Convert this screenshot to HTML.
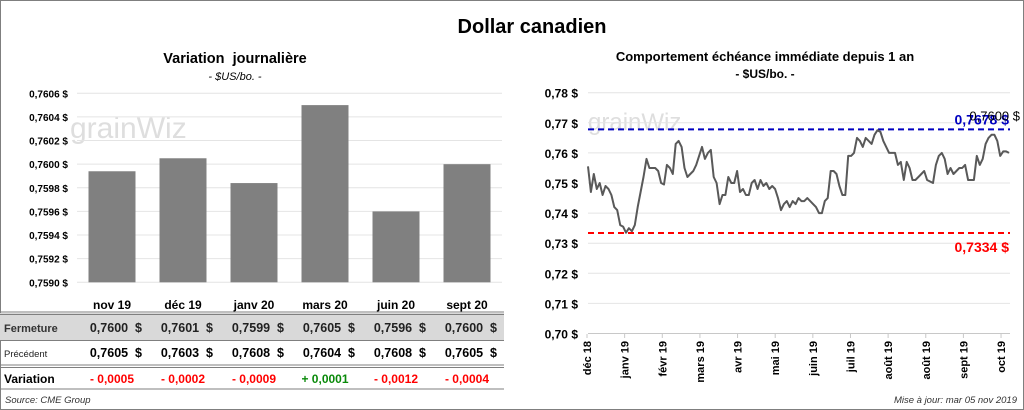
<!DOCTYPE html>
<html><head><meta charset="utf-8">
<style>
body{margin:0;width:1024px;height:410px;background:#fff;font-family:"Liberation Sans",sans-serif;overflow:hidden;position:relative}
.frame{position:absolute;left:0;top:0;width:1022px;height:408px;border:1px solid #7f7f7f}
svg{position:absolute;left:0;top:0}
svg text{white-space:pre}
</style></head>
<body>
<div class="frame"></div>
<svg width="1024" height="410" id="s">
<text x="532" y="33" text-anchor="middle" font-size="20" font-weight="bold" fill="#000">Dollar canadien</text>
<text x="235" y="63" text-anchor="middle" font-size="14.5" font-weight="bold">Variation  journalière</text>
<text x="235" y="80" text-anchor="middle" font-size="11" font-style="italic">- $US/bo. -</text>
<text x="765" y="61" text-anchor="middle" font-size="13" font-weight="bold">Comportement échéance immédiate depuis 1 an</text>
<text x="765" y="78" text-anchor="middle" font-size="12" font-weight="bold">- $US/bo. -</text>
<g id="left"></g><g id="right"></g><g id="table"></g>
<text x="5" y="403" font-size="9.5" font-style="italic" fill="#333">Source: CME Group</text>
<text x="1017" y="403" text-anchor="end" font-size="9.5" font-style="italic" fill="#333">Mise à jour: mar 05 nov 2019</text>
</svg>
<script>
const barCats=["nov 19","déc 19","janv 20","mars 20","juin 20","sept 20"];
const barVals=[0.75994,0.76005,0.75984,0.76050,0.75960,0.76000];
const barTicks=[0.7590,0.7592,0.7594,0.7596,0.7598,0.7600,0.7602,0.7604,0.7606];
const closeVals=["0,7600","0,7601","0,7599","0,7605","0,7596","0,7600"];
const prevVals=["0,7605","0,7603","0,7608","0,7604","0,7608","0,7605"];
const varVals=["- 0,0005","- 0,0002","- 0,0009","+ 0,0001","- 0,0012","- 0,0004"];
const lineLabels=["déc 18","janv 19","févr 19","mars 19","avr 19","mai 19","juin 19","juil 19","août 19","août 19","sept 19","oct 19"];
const lineTicks=[0.70,0.71,0.72,0.73,0.74,0.75,0.76,0.77,0.78];
const lineVals=[0.7555,0.747,0.753,0.748,0.750,0.746,0.749,0.748,0.746,0.742,0.741,0.736,0.7355,0.7335,0.735,0.734,0.736,0.742,0.747,0.752,0.758,0.755,0.755,0.755,0.754,0.750,0.7495,0.756,0.755,0.753,0.763,0.764,0.762,0.755,0.752,0.753,0.754,0.756,0.759,0.762,0.758,0.760,0.761,0.752,0.750,0.743,0.746,0.746,0.752,0.750,0.750,0.754,0.747,0.748,0.746,0.746,0.750,0.751,0.748,0.751,0.749,0.750,0.748,0.749,0.748,0.745,0.741,0.743,0.744,0.742,0.744,0.743,0.745,0.744,0.744,0.745,0.744,0.743,0.742,0.740,0.740,0.744,0.745,0.754,0.754,0.753,0.749,0.746,0.746,0.759,0.759,0.760,0.765,0.764,0.762,0.765,0.764,0.763,0.766,0.7675,0.767,0.764,0.762,0.760,0.760,0.760,0.756,0.757,0.751,0.757,0.755,0.751,0.751,0.752,0.753,0.754,0.751,0.7505,0.750,0.756,0.759,0.760,0.758,0.753,0.755,0.753,0.754,0.755,0.755,0.756,0.751,0.751,0.751,0.759,0.756,0.758,0.763,0.765,0.766,0.766,0.764,0.759,0.7605,0.7605,0.760];
const maxVal=0.7678, minVal=0.7334, lastVal=0.7600;

const NS="http://www.w3.org/2000/svg";
function mk(p,t,a,txt){const e=document.createElementNS(NS,t);for(const k in a)e.setAttribute(k,a[k]);if(txt!==undefined)e.textContent=txt;p.appendChild(e);return e;}
const fmt4=v=>v.toFixed(4).replace('.',',')+' $';
const fmt2=v=>v.toFixed(2).replace('.',',')+' $';

// left bar chart
const L=document.getElementById('left');
const ly=v=>282.3-(v-0.7590)/(0.0016)*189;
const lx=i=>112+i*71;
const wl=mk(L,'text',{x:70,y:138,'font-size':30,fill:'#dedede'},'grainWiz');

barTicks.forEach(t=>{
 const g=mk(L,'line',{x1:77,x2:502,y1:ly(t),y2:ly(t),stroke:'#e4e4e4','stroke-width':1});
 
 const tx=mk(L,'text',{x:68,y:ly(t)+4,'text-anchor':'end','font-size':10,'font-weight':'bold'},fmt4(t));
 
});
barVals.forEach((v,i)=>{
 const r=mk(L,'rect',{x:lx(i)-23.5,y:ly(v),width:47,height:ly(0.7590)-ly(v),fill:'#808080'});
 
});

// table
const T=document.getElementById('table');
mk(T,'rect',{x:0,y:313,width:504,height:27,fill:'#d9d9d9'});
[[312,'#7f7f7f'],[314.5,'#7f7f7f'],[340.5,'#7f7f7f'],[365,'#7f7f7f'],[367.5,'#7f7f7f'],[389,'#7f7f7f']].forEach(([y,c])=>mk(T,'line',{x1:0,x2:504,y1:y,y2:y,stroke:c,'stroke-width':1}));
const r1=mk(T,'text',{x:4,y:332,'font-size':11,'font-weight':'bold',fill:'#333'},'Fermeture');

const r2=mk(T,'text',{x:4,y:357,'font-size':9.5,fill:'#222'},'Précédent');

const r3=mk(T,'text',{x:4,y:383,'font-size':12,'font-weight':'bold'},'Variation');

barCats.forEach((c,i)=>{
 const x=lx(i);
 const h=mk(T,'text',{x:x,y:309,'text-anchor':'middle','font-size':12,'font-weight':'bold'},c);
 
 const a=mk(T,'text',{x:x+30,y:332,'text-anchor':'end','font-size':12.5,'font-weight':'bold',fill:'#222'},closeVals[i]+'  $');
 
 const b=mk(T,'text',{x:x+30,y:357,'text-anchor':'end','font-size':12.5,'font-weight':'bold'},prevVals[i]+'  $');
 
 const v=mk(T,'text',{x:x,y:383,'text-anchor':'middle','font-size':12,'font-weight':'bold',fill:varVals[i][0]=='+'?'#0a8a0a':'#ff0000'},varVals[i]);
 
});

// right line chart
const R=document.getElementById('right');
const ry=v=>92.7+(0.78-v)/0.01*30.1;
const rx0=588,rx1=1009;
const rx=i=>rx0+i*(rx1-rx0)/(lineVals.length-1);
const wr=mk(R,'text',{x:588,y:130,'font-size':24,fill:'#dedede'},'grainWiz');

lineTicks.forEach(t=>{
 const g=mk(R,'line',{x1:588,x2:1010,y1:ry(t),y2:ry(t),stroke:t==0.70?'#c8c8c8':'#e4e4e4','stroke-width':1});
 
 const tx=mk(R,'text',{x:578,y:ry(t)+5,'text-anchor':'end','font-size':12,'font-weight':'bold'},fmt2(t));
 
});
lineLabels.forEach((l,i)=>{
 const x=587+i*37.64;
 mk(R,'line',{x1:x,x2:x,y1:334,y2:338,stroke:'#c8c8c8'});
 const t=mk(R,'text',{x:0,y:0,'text-anchor':'end','font-size':11,'font-weight':'bold',transform:`translate(${x+4},341) rotate(-90)`},l);
 
});
const maxL=mk(R,'line',{x1:588,x2:1010,y1:ry(maxVal),y2:ry(maxVal),stroke:'#0000c0','stroke-width':2,'stroke-dasharray':'6,4'});

const minL=mk(R,'line',{x1:588,x2:1010,y1:ry(minVal),y2:ry(minVal),stroke:'#ff0000','stroke-width':2,'stroke-dasharray':'6,4'});

let d='';lineVals.forEach((v,i)=>{d+=(i?'L':'M')+rx(i).toFixed(1)+','+ry(v).toFixed(1);});
const p=mk(R,'path',{d:d,fill:'none',stroke:'#595959','stroke-width':2,'stroke-linejoin':'round'});

const ml=mk(R,'text',{x:1009,y:ry(maxVal)-5,'text-anchor':'end','font-size':14,'font-weight':'bold',fill:'#0000c0'},fmt4(maxVal));

const la=mk(R,'text',{x:1020,y:ry(maxVal)-9,'text-anchor':'end','font-size':13,fill:'#000'},fmt4(lastVal));

const nl=mk(R,'text',{x:1009,y:ry(minVal)+19,'text-anchor':'end','font-size':14,'font-weight':'bold',fill:'#ff0000'},fmt4(minVal));

</script>
</body></html>
